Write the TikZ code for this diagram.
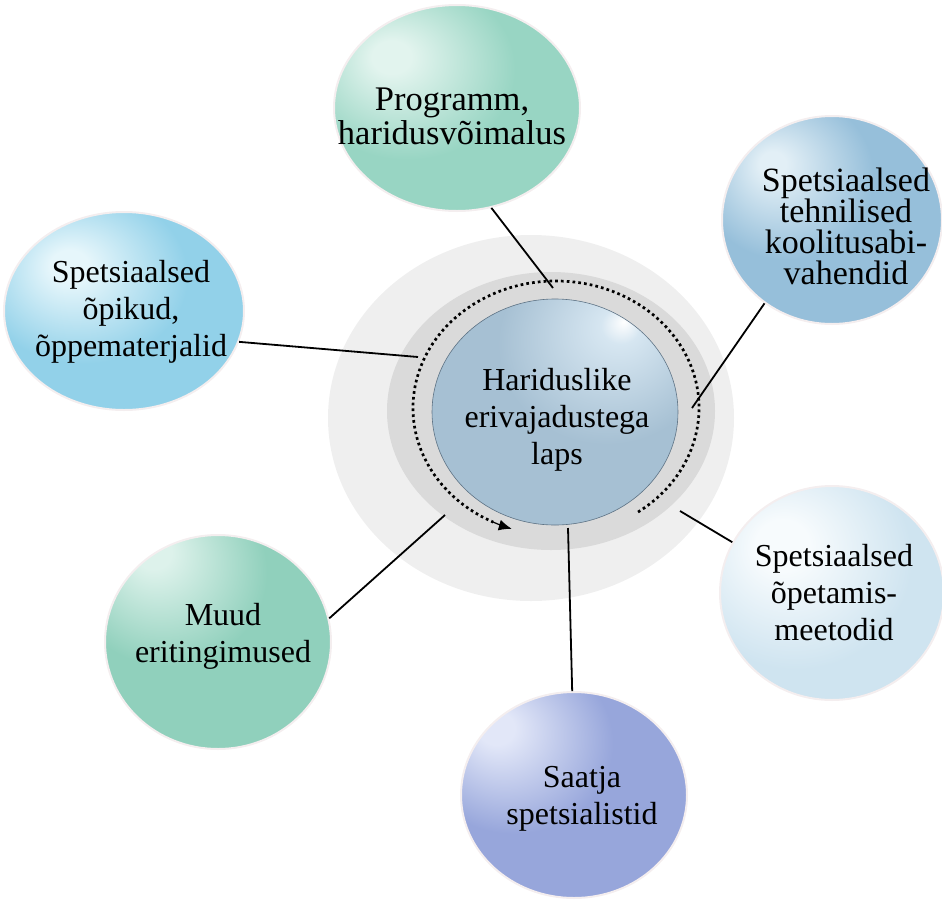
\documentclass[tikz,border=0pt]{standalone}
\usepackage{fontspec}
\setmainfont{Liberation Serif}
\usetikzlibrary{shapes.geometric,arrows.meta}
\definecolor{bgA}{HTML}{EFEFEF}
\definecolor{bgB}{HTML}{DADADA}
\definecolor{topL}{HTML}{E2F4EE}\definecolor{topB}{HTML}{98D5C3}\definecolor{topE}{HTML}{72BBA6}
\definecolor{lefL}{HTML}{E6F6FB}\definecolor{lefB}{HTML}{92D1E9}\definecolor{lefE}{HTML}{6DB9D7}
\definecolor{rtL}{HTML}{E2EFF6}\definecolor{rtB}{HTML}{96BFDA}\definecolor{rtE}{HTML}{6B9BBE}
\definecolor{rbL}{HTML}{F7FBFD}\definecolor{rbB}{HTML}{CFE4F0}\definecolor{rbE}{HTML}{A8C9DD}
\definecolor{puL}{HTML}{E2E7F8}\definecolor{puB}{HTML}{97A6DB}\definecolor{puE}{HTML}{7385C4}
\definecolor{grL}{HTML}{DDF2EB}\definecolor{grB}{HTML}{90D0BC}\definecolor{grE}{HTML}{6CB7A0}
\definecolor{ceL}{HTML}{D6E6F1}\definecolor{ceB}{HTML}{A6C0D3}\definecolor{ceE}{HTML}{7690A6}
\definecolor{halo}{HTML}{F4EEEF}
\pgfdeclareradialshading{shTop}{\pgfpoint{-14bp}{13bp}}{color(0bp)=(topL); color(4bp)=(topL); color(22bp)=(topB); color(50bp)=(topB); color(64bp)=(topE); color(80bp)=(topE)}
\pgfdeclareradialshading{shLef}{\pgfpoint{-12bp}{12bp}}{color(0bp)=(lefL); color(4bp)=(lefL); color(22bp)=(lefB); color(50bp)=(lefB); color(62bp)=(lefE); color(80bp)=(lefE)}
\pgfdeclareradialshading{shRt}{\pgfpoint{-14bp}{14bp}}{color(0bp)=(rtL); color(3bp)=(rtL); color(20bp)=(rtB); color(50bp)=(rtB); color(64bp)=(rtE); color(80bp)=(rtE)}
\pgfdeclareradialshading{shRb}{\pgfpoint{-12bp}{12bp}}{color(0bp)=(rbL); color(6bp)=(rbL); color(26bp)=(rbB); color(50bp)=(rbB); color(64bp)=(rbE); color(80bp)=(rbE)}
\pgfdeclareradialshading{shPu}{\pgfpoint{-18bp}{17bp}}{color(0bp)=(puL); color(4bp)=(puL); color(22bp)=(puB); color(52bp)=(puB); color(68bp)=(puE); color(85bp)=(puE)}
\pgfdeclareradialshading{shGr}{\pgfpoint{-15bp}{22bp}}{color(0bp)=(grL); color(4bp)=(grL); color(22bp)=(grB); color(55bp)=(grB); color(70bp)=(grE); color(85bp)=(grE)}
\pgfdeclareradialshading{shCe}{\pgfpoint{14bp}{20bp}}{color(0bp)=(white); color(4bp)=(ceL); color(22bp)=(ceB); color(50bp)=(ceB); color(66bp)=(ceE); color(85bp)=(ceE)}
\begin{document}
\begin{tikzpicture}[x=1pt,y=-1pt,
  ballnode/.style={ellipse, inner sep=0pt, draw=halo, line width=2pt},
  txt/.style={align=center, inner sep=0pt, font=\fontsize{32}{37}\selectfont},
  link/.style={line width=1.8pt, black},
  dotarc/.style={line width=2.7pt, dash pattern=on 2.7pt off 3.1pt},
  tiparc/.style={line width=1.2pt, -{Latex[length=13pt,width=11pt]}}
]
\useasboundingbox (0,0) rectangle (942,900);
% background rings
\fill[bgA] (531,418) ellipse [x radius=203pt, y radius=183pt];
\fill[bgB] (551,411) ellipse [x radius=164pt, y radius=139pt];
% links' free ends
\coordinate (e1) at (553,288);
\coordinate (e2) at (418,357);
\coordinate (e3) at (692,408);
\coordinate (e4) at (680,511);
\coordinate (e5) at (445,515);
\coordinate (e6) at (568,528);
% satellite balls
\node[ballnode, shading=shTop, minimum width=246pt, minimum height=206pt] (top) at (457,108) {};
\node[ballnode, shading=shLef, minimum width=240pt, minimum height=198pt] (lef) at (124,311) {};
\node[ballnode, shading=shRt, minimum width=220pt, minimum height=208pt] (rt) at (832,220) {};
\node[ballnode, shading=shRb, minimum width=224pt, minimum height=214pt] (rb) at (832,593) {};
\node[ballnode, shading=shGr, minimum width=226pt, minimum height=214pt] (gr) at (218,642) {};
\node[ballnode, shading=shPu, minimum width=226pt, minimum height=206pt] (pu) at (574,795) {};
% connectors
\draw[link] (top.-71.6) -- (e1);
\draw[link] (lef.-15.8) -- (e2);
\draw[link] (rt.-129.5) -- (e3);
\draw[link] (rb.153) -- (e4);
\draw[link] (gr.12.2) -- (e5);
\draw[link] (pu.91.7) -- (e6);
% dotted arrow arc
\coordinate (dc) at (556,408);
\draw[dotarc] (dc) ++(-55:143pt and 127pt) arc[start angle=-55, end angle=244, x radius=143pt, y radius=127pt];
\draw[tiparc] (dc) ++(244:143pt and 127pt) arc[start angle=244, end angle=252, x radius=143pt, y radius=127pt];
% centre ball
\node[ellipse, inner sep=0pt, shading=shCe, draw=ceE!80!black, line width=0.6pt, minimum width=246pt, minimum height=226pt] (ce) at (555,412) {};
% texts
\node[txt, font=\fontsize{34.5}{34}\selectfont] (ttop) at (452,116) {Programm,\\haridusvõimalus};
\node[txt] (tlef) at (131,312) {Spetsiaalsed\\õpikud,\\õppematerjalid};
\node[txt, font=\fontsize{34}{31}\selectfont] (trt) at (846,226) {Spetsiaalsed\\tehnilised\\koolitusabi-\\vahendid};
\node[txt] (trb) at (834,593) {Spetsiaalsed\\õpetamis-\\meetodid};
\node[txt] (tgr) at (223,636) {Muud\\eritingimused};
\node[txt] (tpu) at (582,799) {Saatja\\spetsialistid};
\node[txt] (tce) at (557,420) {Hariduslike\\erivajadustega\\laps};
\end{tikzpicture}
\end{document}
